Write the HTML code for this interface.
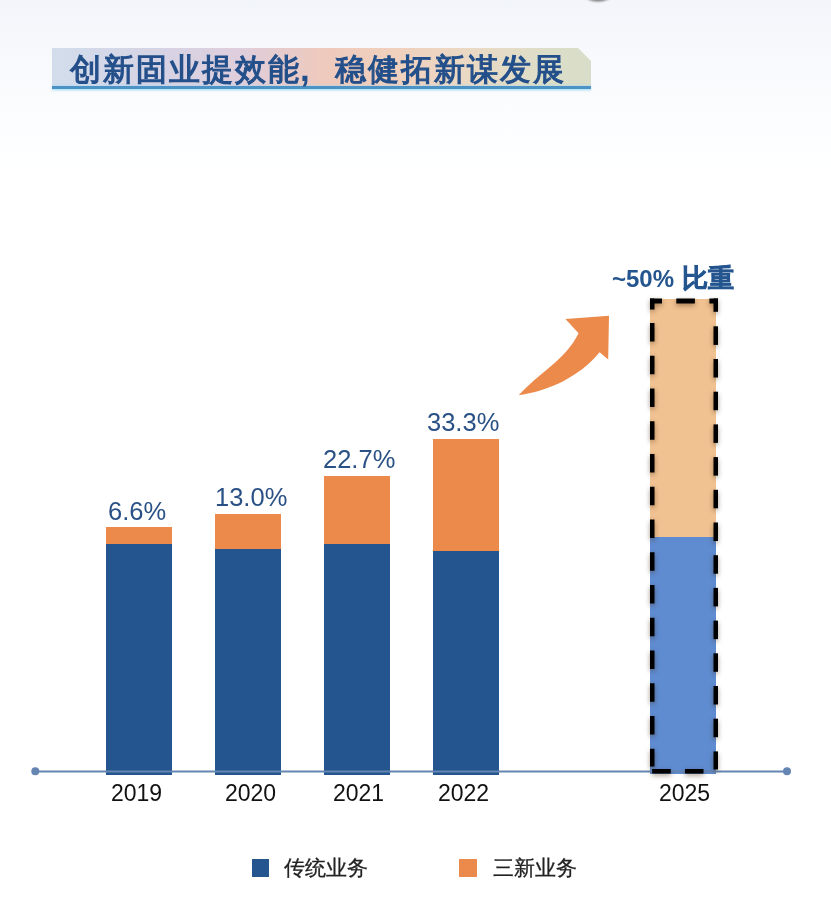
<!DOCTYPE html>
<html><head><meta charset="utf-8">
<style>
html,body{margin:0;padding:0;}
body{width:831px;height:914px;position:relative;overflow:hidden;font-family:"Liberation Sans",sans-serif;
background:linear-gradient(180deg,#f2f5fa 0px,#f6f8fc 40px,#fafbfd 90px,#fdfeff 140px,#ffffff 185px,#ffffff 914px);}
.abs{position:absolute;}
.pct,.yr,.leg,.ttext,.tcomma{will-change:transform;}
.bar{position:absolute;width:65.5px;}
.blue{background:#24558f;}
.orange{background:#eb8a4b;}
.pct{position:absolute;color:#2a5186;font-size:25.5px;white-space:nowrap;line-height:1;}
.yr{position:absolute;color:#111;font-size:23px;white-space:nowrap;line-height:1;}
.title{position:absolute;left:52px;top:48px;width:539px;height:38px;
 background:linear-gradient(90deg,#d2ddec 0%,#d6d3e4 20%,#dfcedc 35%,#eec9bd 50%,#f0d0bd 63%,#ead9c4 78%,#dcdec8 92%,#d8ddc9 100%);
 clip-path:polygon(0 0,526px 0,539px 13px,539px 100%,0 100%);}
.uline{position:absolute;left:51.6px;top:86px;width:539.4px;height:3px;background:#4b93c6;box-shadow:0 1.5px 2px rgba(150,215,245,0.7),0 -1px 2px rgba(170,220,245,0.5);}
.ttext{position:absolute;left:69px;top:54px;font-size:31px;letter-spacing:2px;color:#234f8a;white-space:nowrap;line-height:1;-webkit-text-stroke:1.2px #234f8a;}
.tcomma{position:absolute;left:299.5px;top:51px;font-size:35px;font-weight:bold;color:#234f8a;line-height:1;}
.leg{position:absolute;font-size:21px;color:#222;-webkit-text-stroke:0.3px #222;line-height:1;white-space:nowrap;}
</style></head>
<body>
<div class="title"></div>
<div class="uline"></div>
<div class="ttext" style="left:69.8px">创新固业提效能</div>
<div class="tcomma">,</div>
<div class="ttext" style="left:334.8px">稳健拓新谋发展</div>

<div class="bar orange" style="left:106px;top:527px;height:17px"></div>
<div class="bar blue" style="left:106px;top:543.5px;height:231.5px"></div>
<div class="bar orange" style="left:215px;top:514px;height:35px"></div>
<div class="bar blue" style="left:215px;top:548.5px;height:226.5px"></div>
<div class="bar orange" style="left:324px;top:476px;height:68px"></div>
<div class="bar blue" style="left:324px;top:543.5px;height:231.5px"></div>
<div class="bar orange" style="left:433px;top:439px;height:113px"></div>
<div class="bar blue" style="left:433px;top:551px;height:224px"></div>

<div class="pct" style="left:108px;top:499px">6.6%</div>
<div class="pct" style="left:215px;top:485px">13.0%</div>
<div class="pct" style="left:323px;top:447px">22.7%</div>
<div class="pct" style="left:427px;top:410px">33.3%</div>

<div class="bar" style="left:650px;top:299px;height:238px;width:66px;background:#f0c191"></div>
<div class="bar" style="left:650px;top:537px;height:237px;width:66px;background:#5f8bd0"></div>

<svg class="abs" style="left:0;top:0" width="831" height="914">
 <defs><filter id="bl" x="-50%" y="-50%" width="200%" height="200%"><feGaussianBlur stdDeviation="1.2"/></filter></defs>
 <ellipse cx="598" cy="-4.5" rx="12.5" ry="6" fill="#777" filter="url(#bl)"/>
 <line x1="35" y1="771.5" x2="787" y2="771.5" stroke="#6585b2" stroke-width="2"/>
 <circle cx="35.3" cy="771.3" r="4" fill="#6585b2"/>
 <circle cx="787" cy="771.3" r="4" fill="#6585b2"/>
 <path d="M518.7,395.3 C537.7,373.9 565.5,359.8 578.6,333.2 L565.4,319 L609,315.8 L608.2,359.6 L599.6,352.2 C579.2,376.7 550.2,390.4 518.7,395.3 Z" fill="#eb8a4b"/>
 <g fill="#000" style="filter:drop-shadow(0px 2px 2.5px rgba(60,30,0,0.45))">
<rect x="650" y="298.5" width="12" height="5"/>
<rect x="650" y="298.5" width="4.5" height="11"/>
<rect x="676.3" y="298.5" width="18.6" height="5"/>
<rect x="709.4" y="298.5" width="8.6" height="5"/>
<rect x="713.5" y="298.5" width="4.5" height="13.3"/>
<rect x="650" y="323" width="4.5" height="18.5"/>
<rect x="650" y="355.75" width="4.5" height="18.5"/>
<rect x="650" y="388.5" width="4.5" height="18.5"/>
<rect x="650" y="421.25" width="4.5" height="18.5"/>
<rect x="650" y="454.0" width="4.5" height="18.5"/>
<rect x="650" y="486.75" width="4.5" height="18.5"/>
<rect x="650" y="519.5" width="4.5" height="18.5"/>
<rect x="650" y="552.25" width="4.5" height="18.5"/>
<rect x="650" y="585.0" width="4.5" height="18.5"/>
<rect x="650" y="617.75" width="4.5" height="18.5"/>
<rect x="650" y="650.5" width="4.5" height="18.5"/>
<rect x="650" y="683.25" width="4.5" height="18.5"/>
<rect x="650" y="716.0" width="4.5" height="18.5"/>
<rect x="650" y="748.75" width="4.5" height="17.75"/>
<rect x="713.5" y="326.3" width="4.5" height="18.6"/>
<rect x="713.5" y="359.0" width="4.5" height="18.5"/>
<rect x="713.5" y="391.7" width="4.5" height="18.5"/>
<rect x="713.5" y="424.4" width="4.5" height="18.5"/>
<rect x="713.5" y="457.1" width="4.5" height="18.5"/>
<rect x="713.5" y="489.8" width="4.5" height="18.5"/>
<rect x="713.5" y="522.5" width="4.5" height="18.5"/>
<rect x="713.5" y="555.2" width="4.5" height="18.5"/>
<rect x="713.5" y="587.9" width="4.5" height="18.5"/>
<rect x="713.5" y="620.6" width="4.5" height="18.5"/>
<rect x="713.5" y="653.3" width="4.5" height="18.5"/>
<rect x="713.5" y="686.0" width="4.5" height="18.5"/>
<rect x="713.5" y="718.7" width="4.5" height="18.5"/>
<rect x="713.5" y="751.4" width="4.5" height="18.1"/>
<rect x="652.2" y="769" width="18.6" height="4.5"/>
<rect x="685" y="769" width="18.5" height="4.5"/>
 </g>
</svg>

<div class="pct" style="left:612px;top:266px;font-weight:bold;font-size:24px;color:#24558f">~50% <span style="font-size:25.5px;-webkit-text-stroke:0.6px #24558f;position:relative;left:1px;top:-0.5px">比重</span></div>

<div class="yr" style="left:110.5px;top:782px">2019</div>
<div class="yr" style="left:224.5px;top:782px">2020</div>
<div class="yr" style="left:333px;top:782px">2021</div>
<div class="yr" style="left:438px;top:782px">2022</div>
<div class="yr" style="left:659px;top:782px">2025</div>

<div class="abs" style="left:251.5px;top:859.3px;width:17px;height:17.4px;background:#24558f"></div>
<div class="leg" style="left:284px;top:857px">传统业务</div>
<div class="abs" style="left:459.3px;top:859.3px;width:17.7px;height:17.4px;background:#eb8a4b"></div>
<div class="leg" style="left:493px;top:857px">三新业务</div>
</body></html>
